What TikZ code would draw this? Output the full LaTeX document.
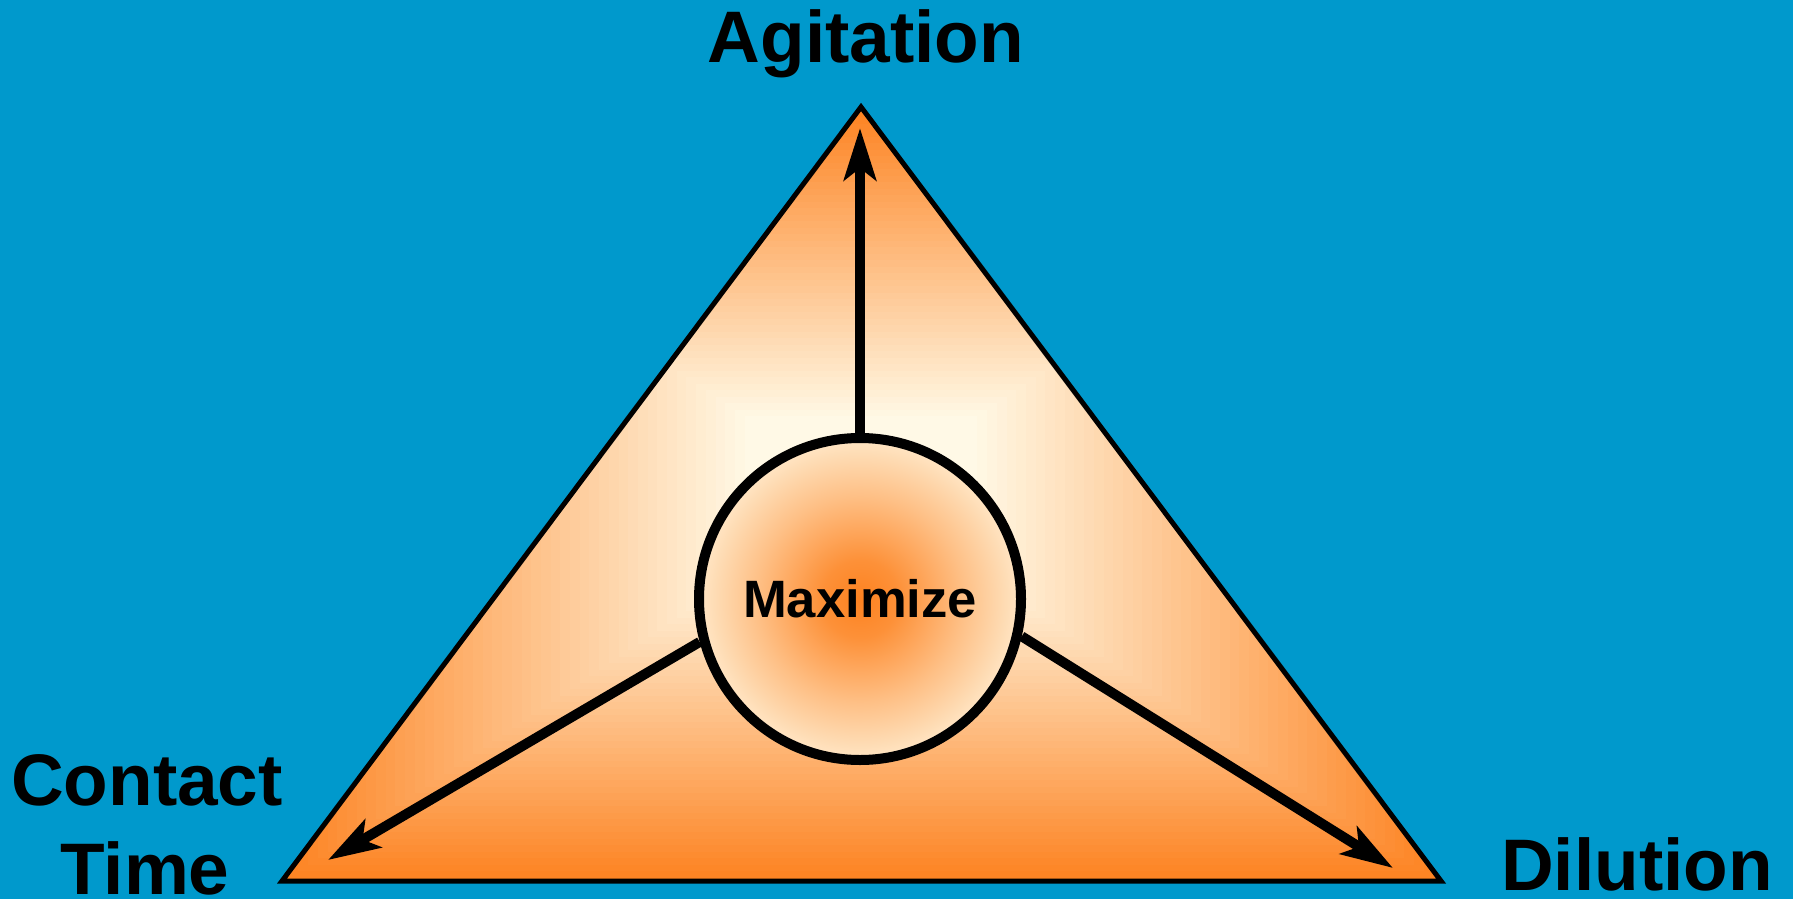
\documentclass[tikz,border=0pt]{standalone}
\usepackage{fontspec}
\setmainfont{Liberation Sans}
\usetikzlibrary{arrows.meta}
\definecolor{bg}{RGB}{0,153,204}
\definecolor{orng}{RGB}{253,130,32}
\definecolor{cream}{RGB}{255,249,230}
\definecolor{creamc}{RGB}{255,253,235}
\pgfdeclareradialshading{maxshade}{\pgfpoint{0bp}{0bp}}{color(0bp)=(orng); color(6bp)=(orng!88!creamc); color(16bp)=(orng!50!creamc); color(26bp)=(orng!15!creamc); color(34bp)=(creamc); color(50bp)=(creamc)}
\begin{document}
\begin{tikzpicture}[x=0.5pt,y=-0.5pt,
  lbl/.style={font=\bfseries\fontsize{36.5}{40}\selectfont, inner sep=0pt, anchor=base},
  arr/.style={line width=5pt, -{Stealth[length=26pt,width=16pt,inset=6pt]}},
  tri/.style={draw=black, line width=2.5pt, line join=miter},
  hub/.style={circle, draw=black, line width=5pt, minimum size=161pt, inner sep=0pt, shading=maxshade, font=\bfseries\fontsize{26.3}{30}\selectfont}
  ]
\fill[bg] (0,0) rectangle (1793,899);
\useasboundingbox (0,0) rectangle (1793,899);
\coordinate (top) at (861,107);
\coordinate (bl) at (282,881);
\coordinate (br) at (1441,881);
\begin{scope}
\clip (top) -- (bl) -- (br) -- cycle;
\foreach \k in {60,59,...,1}{
  \pgfmathsetmacro{\t}{\k/60}
  \pgfmathsetmacro{\p}{max(0,min(100,(\t-0.2)/0.8*100))}
  \fill[orng!\p!cream] ({861-582*\t},{494-390*\t}) rectangle ({861+582*\t},{494+390*\t});
}
\end{scope}
\draw[tri] (top) -- (bl) -- (br) -- cycle;
\coordinate (tipT) at (860,128);
\coordinate (tipL) at (328,860);
\coordinate (tipR) at (1393,868);
\node[hub] (max) at (860,599) {\raisebox{-2pt}{Maximize}};
\draw[arr] (max.north) -- (tipT);
\draw[arr] (max.195) -- (tipL);
\draw[arr] (max.-13) -- (tipR);
\node[lbl] (agit) at (866,63) {Agitation};
\node[lbl] (cont) at (147,805) {Contact};
\node[lbl] (time) at (145,894) {Time};
\node[lbl] (dil) at (1637,890) {Dilution};
\end{tikzpicture}
\end{document}
